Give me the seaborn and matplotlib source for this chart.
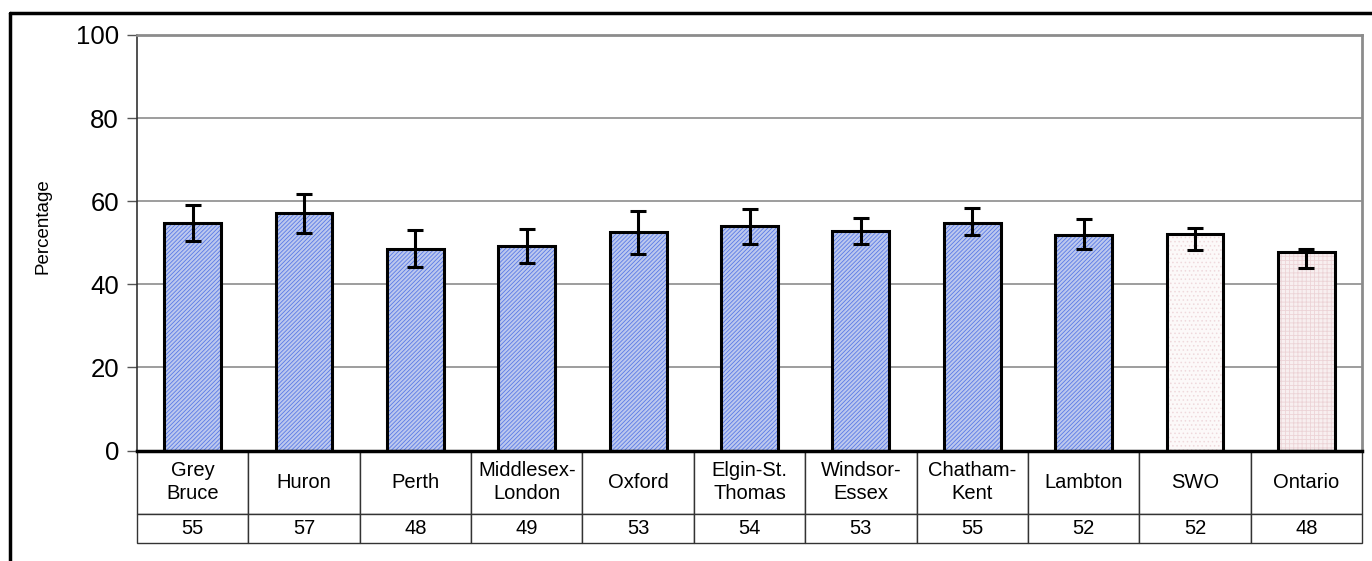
import numpy as np
import pandas as pd
import matplotlib
matplotlib.use("Agg")
import matplotlib.pyplot as plt
import seaborn as sns
from matplotlib.patches import Rectangle
from matplotlib.lines import Line2D

# ---------------------------------------------------------------------------
# Data
# ---------------------------------------------------------------------------
REGIONS = ["Grey\nBruce", "Huron", "Perth", "Middlesex-\nLondon", "Oxford",
           "Elgin-St.\nThomas", "Windsor-\nEssex", "Chatham-\nKent", "Lambton",
           "SWO", "Ontario"]
PERCENT = [54.8, 57.2, 48.6, 49.2, 52.6, 54.0, 52.8, 54.7, 51.8, 52.1, 47.8]
CI_LOW = [50.4, 52.4, 44.1, 45.2, 47.4, 49.8, 49.8, 51.8, 48.4, 48.3, 44.0]
CI_HIGH = [59.1, 61.8, 53.0, 53.3, 57.7, 58.1, 56.0, 58.3, 55.6, 53.6, 48.6]
TABLE_VALUES = ["55", "57", "48", "49", "53", "54", "53", "55", "52", "52", "48"]
GROUP = ["region"] * 9 + ["swo", "ontario"]

FILL = {"region": "#b4c4f6", "swo": "#fdf8f8", "ontario": "#f9eeef"}
HATCH = {"region": ("////////", "#5a7ae6"), "swo": ("....", "#efd9dc"), "ontario": ("++++", "#ecd3d6")}

sns.set_style("white")
plt.rcParams["font.family"] = ["Liberation Sans", "DejaVu Sans"]
plt.rcParams["hatch.linewidth"] = 0.6

df = pd.DataFrame({"region": REGIONS, "pct": PERCENT, "group": GROUP})

fig = plt.figure(figsize=(13.72, 5.61), dpi=100)
ax = fig.add_axes([137 / 1372, 1 - 450.5 / 561, 1225 / 1372, 415.5 / 561])

sns.barplot(data=df, x="region", y="pct", hue="group", palette=FILL,
            dodge=False, width=0.51, errorbar=None, legend=False,
            linewidth=0, ax=ax)

# hatch pattern + black outline on every bar
for patch, grp in zip(sorted(ax.patches, key=lambda p: p.get_x()), GROUP):
    h, hc = HATCH[grp]
    patch.set_hatch(h)
    patch.set_edgecolor(hc)
    patch.set_linewidth(0)
    ax.add_patch(Rectangle(patch.get_xy(), patch.get_width(), patch.get_height(),
                           fill=False, edgecolor="black", linewidth=2.2, zorder=3))

x = np.arange(len(REGIONS))
pct = np.array(PERCENT)
yerr = [pct - np.array(CI_LOW), np.array(CI_HIGH) - pct]
ax.errorbar(x, pct, yerr=yerr, fmt="none", ecolor="black", elinewidth=2.2,
            capsize=5.5, capthick=2.2, zorder=4)

ax.set_ylim(0, 100)
ax.set_xlim(-0.5, len(REGIONS) - 0.5)
ax.set_yticks([0, 20, 40, 60, 80, 100])
ax.yaxis.grid(True, color="#8c8c8c", linewidth=1.2)
ax.set_axisbelow(True)
ax.tick_params(axis="y", direction="out", length=7, width=1, color="#555555",
               labelsize=18.5, labelcolor="black", pad=6, left=True)
ax.tick_params(axis="x", bottom=False, labelbottom=False)
ax.set_xlabel("")
ax.set_ylabel("Percentage", fontsize=13.5, color="black")
ax.yaxis.set_label_coords(-0.07, 0.54)

for side in ["top", "right"]:
    ax.spines[side].set_color("#8c8c8c")
    ax.spines[side].set_linewidth(2)
ax.spines["left"].set_color("#333333")
ax.spines["left"].set_linewidth(1.2)
ax.spines["bottom"].set_color("black")
ax.spines["bottom"].set_linewidth(2.5)

# data table under the axis
tab = ax.table(cellText=[REGIONS, TABLE_VALUES], cellLoc="center",
               bbox=[0, -92.5 / 415.5, 1, 92.5 / 415.5])
tab.auto_set_font_size(False)
for (r, c), cell in tab.get_celld().items():
    cell.set_edgecolor("#333333")
    cell.set_linewidth(1.0)
    txt = cell.get_text()
    txt.set_fontsize(14.5)
    txt.set_color("black")
    txt.set_linespacing(1.3)
    cell.set_height(62 if r == 0 else 29)

# outer chart frame (top and left edges visible)
fig.add_artist(Line2D([10 / 1372, 1], [1 - 13 / 561, 1 - 13 / 561],
                      transform=fig.transFigure, color="black", linewidth=2.5))
fig.add_artist(Line2D([10 / 1372, 10 / 1372], [0, 1 - 13 / 561],
                      transform=fig.transFigure, color="black", linewidth=2.5))

fig.savefig("out.png", dpi=100)
